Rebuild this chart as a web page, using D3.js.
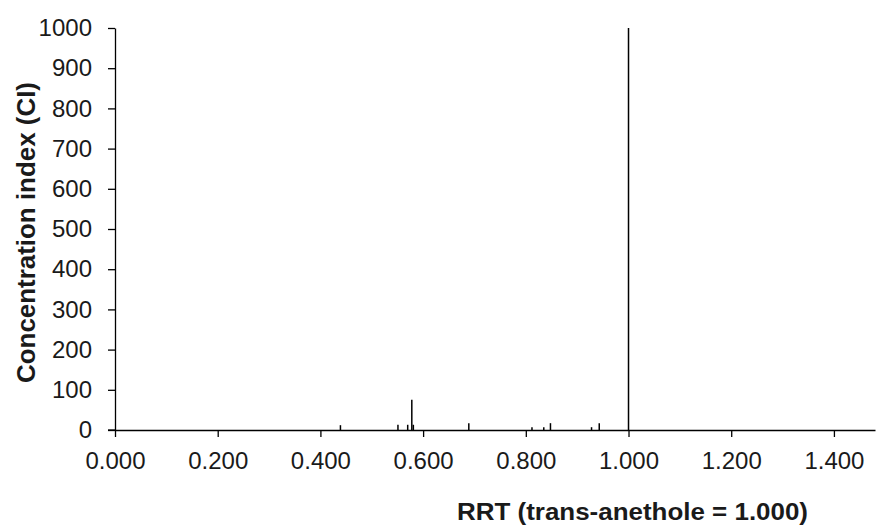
<!DOCTYPE html>
<html>
<head>
<meta charset="utf-8">
<script src="https://cdn.jsdelivr.net/npm/d3@7"></script>
<style>
  body { margin: 0; background: #fff; }
  text { font-family: "Liberation Sans", Arial, sans-serif; }
</style>
</head>
<body>
<svg id="chart" width="876" height="525"></svg>
<script>
// RRT positions of the peaks (relative to trans-anethole)
var rrt = [0.439, 0.551, 0.570, 0.578, 0.581, 0.689, 0.812, 0.835, 0.848, 0.928, 0.943, 1.000];
// Concentration index for each peak
var ci = [12, 13, 13, 75, 13, 17, 7, 7, 17, 7, 17, 1000];

var yTicks = [0, 100, 200, 300, 400, 500, 600, 700, 800, 900, 1000];
var xTicks = [0, 0.2, 0.4, 0.6, 0.8, 1.0, 1.2, 1.4];

var svg = d3.select('#chart');

var x = d3.scaleLinear().domain([0, 1.48]).range([115, 875]);
var y = d3.scaleLinear().domain([0, 1000]).range([430, 28]);

// y axis
svg.append('g')
  .attr('transform', 'translate(115,0)')
  .call(d3.axisLeft(y).tickValues(yTicks).tickSize(7).tickPadding(16)
    .tickFormat(d3.format('d')).tickSizeOuter(0));

// x axis
svg.append('g')
  .attr('transform', 'translate(0,430)')
  .call(d3.axisBottom(x).tickValues(xTicks).tickSize(7).tickPadding(15)
    .tickFormat(d3.format('.3f')).tickSizeOuter(0));

svg.selectAll('.domain').attr('stroke', '#000').attr('stroke-width', 1.3);
svg.selectAll('.tick line').attr('stroke', '#000').attr('stroke-width', 1.3);
svg.selectAll('.tick text').style('font-size', '24px').attr('fill', '#1a1a1a');

// little stub so the x axis starts left of the y axis
svg.append('line')
  .attr('x1', x(0) - 7).attr('x2', x(0))
  .attr('y1', y(0)).attr('y2', y(0))
  .attr('stroke', '#000').attr('stroke-width', 1.3);

// peaks
svg.selectAll('line.peak').data(rrt)
  .enter()
  .append('line')
  .attr('class', 'peak')
  .attr('x1', function(d) { return x(d); })
  .attr('x2', function(d) { return x(d); })
  .attr('y1', y(0))
  .attr('y2', function(d, i) { return y(ci[i]); })
  .attr('stroke', '#000')
  .attr('stroke-width', 1.5);

// axis titles
svg.append('text')
  .attr('x', 457).attr('y', 520)
  .attr('textLength', 351).attr('lengthAdjust', 'spacingAndGlyphs')
  .style('font-size', '23px').style('font-weight', 'bold').attr('fill', '#1a1a1a')
  .text('RRT (trans-anethole = 1.000)');

svg.append('text')
  .attr('transform', 'translate(35,383) rotate(-90)')
  .attr('textLength', 301).attr('lengthAdjust', 'spacingAndGlyphs')
  .style('font-size', '25px').style('font-weight', 'bold').attr('fill', '#1a1a1a')
  .text('Concentration index (CI)');
</script>
</body>
</html>
